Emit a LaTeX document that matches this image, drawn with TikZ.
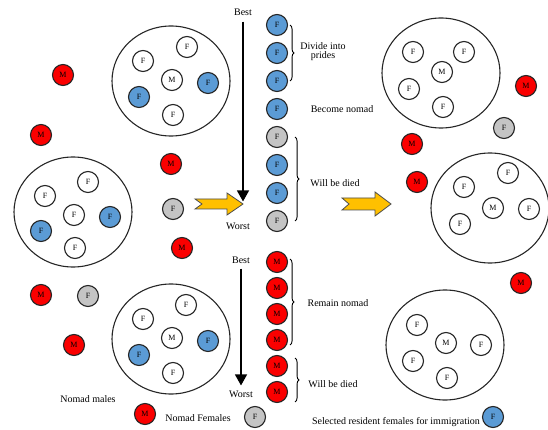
\documentclass[tikz,border=0pt]{standalone}
\usepackage{fontspec}
\setmainfont{Liberation Serif}
\usetikzlibrary{shapes,arrows.meta,decorations.pathreplacing,positioning}
\definecolor{lionblue}{RGB}{91,155,213}
\definecolor{lionred}{RGB}{250,0,0}
\definecolor{liongray}{RGB}{196,196,196}
\definecolor{arrowgold}{RGB}{255,192,0}

\begin{document}
\begin{tikzpicture}[x=1pt,y=-1pt]
\useasboundingbox (0,0) rectangle (548,430);
\tikzstyle{main}=[circle, minimum size = 21pt, inner sep = 0pt, draw = black!85, line width = 1.1pt, fill = white, font = \fontsize{8}{8}\selectfont]
\tikzstyle{pride}=[ellipse, draw = black!85, line width = 1.1pt, minimum width = 118pt, minimum height = 110pt]
\tikzstyle{txt}=[font = \fontsize{10}{11}\selectfont, inner sep = 1pt, align = center]
\tikzstyle{rank}=[-{Triangle[length=11pt,width=12pt]}, line width = 1.3pt]
\tikzstyle{grp}=[decorate, decoration = {brace, amplitude = 4pt}, line width = 0.9pt]
\tikzstyle{bigarrow}=[fill = arrowgold, draw = black!70, line width = 0.8pt]
% prides
\node[pride] (p1) at (171,81) {};
\node[pride] (p2) at (73,212) {};
\node[pride] (p3) at (441,73) {};
\node[pride] (p4) at (171,339) {};
\node[pride] (p5) at (490,208) {};
\node[pride] (p6) at (445,345) {};
\foreach \n/\x/\y/\c/\t in {1/187/47/white/F,2/143/61/white/F,3/172/80/white/M,4/208/83/lionblue/F,5/139/97/lionblue/F,6/173/115/white/F}
    \node[main, fill = \c] (a\n) at (\x,\y) {\t};
\foreach \n/\x/\y/\c/\t in {1/88/182/white/F,2/45/196/white/F,3/74/215/white/F,4/110/217/lionblue/F,5/41/231/lionblue/F,6/75/248/white/F}
    \node[main, fill = \c] (b\n) at (\x,\y) {\t};
\foreach \n/\x/\y/\t in {1/413/52/F,2/464/52/F,3/442/72/M,4/409/89/F,5/443/107/F}
    \node[main] (c\n) at (\x,\y) {\t};
\foreach \n/\x/\y/\c/\t in {1/186/305/white/F,2/143/319/white/F,3/172/338/white/M,4/208/341/lionblue/F,5/139/355/lionblue/F,6/173/373/white/F}
    \node[main, fill = \c] (d\n) at (\x,\y) {\t};
\foreach \n/\x/\y/\t in {1/508/173/F,2/464/187/F,3/493/208/M,4/529/209/F,5/460/224/F}
    \node[main] (e\n) at (\x,\y) {\t};
\foreach \n/\x/\y/\t in {1/417/325/F,2/446/343/M,3/481/345/F,4/413/361/F,5/447/378/F}
    \node[main] (g\n) at (\x,\y) {\t};
% nomads
\foreach \n/\x/\y in {1/63/75,2/41/135,3/171/164,4/182/248,5/41/295,6/74/345,7/526/86,8/412/144,9/417/182,10/521/283}
    \node[main, fill = lionred] (nm\n) at (\x,\y) {M};
\foreach \n/\x/\y in {1/173/209,2/88/296,3/504/128}
    \node[main, fill = liongray] (nf\n) at (\x,\y) {F};
% ranked females
\foreach \i/\c in {1/lionblue,2/lionblue,3/lionblue,4/lionblue,5/liongray,6/lionblue,7/lionblue,8/liongray}
    \node[main, fill = \c] (f\i) at (277,{25+28*(\i-1)}) {F};
\node[txt] (best1) at (243,12) {Best};
\node[txt] (worst1) at (238,226) {Worst};
\draw[rank, shorten <= 5pt, shorten >= 20pt] (best1.south) -- (best1.south |- worst1.north);
\draw[grp] ([xshift=2pt]f1.east) -- ([xshift=2pt]f3.east);
\node[txt] (divide) at (323,52) {Divide into\\[-2pt]prides};
\node[txt] (become) at (342,109) {Become nomad};
\draw[grp] ([xshift=7pt]f5.east) -- ([xshift=7pt]f8.east);
\node[txt] (died1) at (335,183) {Will be died};
% ranked males
\foreach \i in {1,...,6}
    \node[main, fill = lionred] (m\i) at (277,{262+26*(\i-1)}) {M};
\node[txt] (best2) at (241,260) {Best};
\node[txt] (worst2) at (241,394) {Worst};
\draw[rank, shorten <= 4pt, shorten >= 4pt] (best2.south) -- (worst2.north);
\draw[grp] ([xshift=2pt,yshift=3pt]m1.east) -- ([xshift=2pt,yshift=-5pt]m4.east);
\node[txt] (remain) at (338,303) {Remain nomad};
\draw[grp] ([xshift=7pt,yshift=8pt]m5.east) -- ([xshift=7pt,yshift=-10pt]m6.east);
\node[txt] (died2) at (333,384) {Will be died};
% arrows
\draw[bigarrow, shift={(195,204)}] (0,-5) -- (32,-5) -- (32,-11) -- (48,0) -- (32,11) -- (32,5) -- (0,5) -- (7,0) -- cycle;
\draw[bigarrow, shift={(342,204)}] (0,-6) -- (33,-6) -- (33,-12) -- (49,0) -- (33,12) -- (33,6) -- (0,6) -- (7,0) -- cycle;
% legend
\node[txt] (lmales) at (88,399) {Nomad males};
\node[main, fill = lionred] (lm) at (145,414) {M};
\node[txt] (lfemales) at (198,418) {Nomad Females};
\node[main, fill = liongray] (lf) at (255,417) {F};
\node[txt] (lsel) at (396,422) {Selected resident females for immigration};
\node[main, fill = lionblue] (ls) at (493,417) {F};
\end{tikzpicture}
\end{document}
